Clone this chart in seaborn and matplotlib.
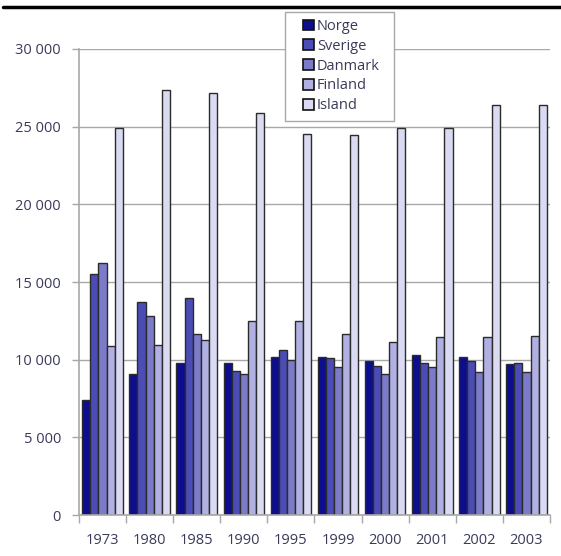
import numpy as np
import pandas as pd
import seaborn as sns
import matplotlib.pyplot as plt
from matplotlib.patches import Rectangle
from matplotlib.ticker import FuncFormatter, FixedLocator

years = ["1973", "1980", "1985", "1990", "1995", "1999", "2000", "2001", "2002", "2003"]
countries = ["Norge", "Sverige", "Danmark", "Finland", "Island"]

norge   = [7400, 9100, 9800, 9800, 10200, 10200, 9900, 10300, 10200, 9700]
sverige = [15500, 13700, 13950, 9250, 10600, 10100, 9600, 9800, 9900, 9800]
danmark = [16200, 12800, 11650, 9100, 10000, 9500, 9100, 9500, 9200, 9200]
finland = [10850, 10950, 11250, 12500, 12500, 11650, 11150, 11450, 11450, 11550]
island  = [24900, 27350, 27150, 25900, 24550, 24450, 24900, 24900, 26400, 26400]

colors = ["#0d0d8f", "#4c4cb6", "#7b7bca", "#b0b0e2", "#dadaf2"]

series = [norge, sverige, danmark, finland, island]
df = pd.DataFrame({
    "year": np.tile(years, len(countries)),
    "country": np.repeat(countries, len(years)),
    "value": np.concatenate(series),
})

sns.set_theme(style="white")
plt.rcParams["font.family"] = ["Open Sans", "DejaVu Sans"]
text_color = "#3a3a5a"
grid_color = "#a8a8a8"

W, H = 561, 556
fig = plt.figure(figsize=(W / 100, H / 100), dpi=100)
ax = fig.add_axes([0.1408, 0.0737, 0.8396, 0.8382])

sns.barplot(data=df, x="year", y="value", hue="country", order=years,
            hue_order=countries, palette=colors, width=0.86, saturation=1,
            edgecolor="#2b2b2b", linewidth=1.0, errorbar=None, ax=ax)

ax.set_ylim(0, 30000)
ax.set_xlim(-0.5, len(years) - 0.5)
ax.set_yticks(np.arange(0, 30001, 5000))
ax.yaxis.set_major_formatter(FuncFormatter(lambda v, p: f"{int(v):,}".replace(",", " ")))
ax.yaxis.grid(True, color=grid_color, linewidth=1.0)
ax.set_axisbelow(True)
ax.set_xlabel("")
ax.set_ylabel("")

for side in ["top", "right"]:
    ax.spines[side].set_visible(False)
for side in ["left", "bottom"]:
    ax.spines[side].set_color(grid_color)
    ax.spines[side].set_linewidth(1.2)

ax.tick_params(axis="y", which="major", direction="out", length=5, width=1,
               color=grid_color, labelsize=10.5, labelcolor=text_color, pad=8, left=True)
ax.tick_params(axis="x", which="major", length=0, labelsize=10.5,
               labelcolor=text_color, pad=13)
ax.xaxis.set_minor_locator(FixedLocator(np.arange(-0.5, len(years), 1.0)))
ax.tick_params(axis="x", which="minor", direction="out", length=6, width=1,
               color=grid_color, bottom=True)

# legend box: white panel with a grey frame, entries placed inside it
box = Rectangle((285 / W, 1 - 121 / H), (394 - 285) / W, (121 - 12) / H,
                transform=fig.transFigure, facecolor="white", edgecolor=grid_color,
                linewidth=1.0, zorder=5, clip_on=False)
ax.add_patch(box)

leg = ax.legend(loc="upper left", bbox_to_anchor=(303 / W, 1 - 19 / H),
                bbox_transform=fig.transFigure, frameon=False,
                fontsize=10.5, handlelength=0.75, handleheight=0.75, handletextpad=0.2,
                labelspacing=0.33, borderpad=0, borderaxespad=0)
leg.set_zorder(6)
for t in leg.get_texts():
    t.set_color(text_color)
for h in leg.legend_handles:
    h.set_edgecolor("#111111")
    h.set_linewidth(1.2)

# heavy rule across the top of the figure
fig.add_artist(plt.Line2D([0.005, 1.0], [0.987, 0.987], transform=fig.transFigure,
                          color="black", linewidth=2.5))

fig.savefig("out.png", dpi=100)
